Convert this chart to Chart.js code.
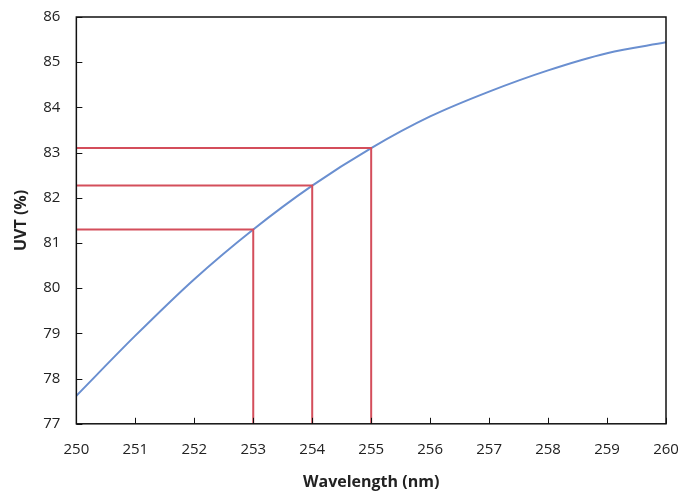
<!DOCTYPE html>
<html>
<head>
<meta charset="utf-8">
<script src="https://cdn.jsdelivr.net/npm/chart.js@4"></script>
<style>
  body { margin: 0; background: #fff; }
  #wrap { width: 683px; height: 494px; }
</style>
</head>
<body>
<div id="wrap"><canvas id="grafico"></canvas></div>
<script>
// wavelength (nm) and UVT (%)
var wavelengths = [250, 251, 252, 253, 254, 255, 256, 257, 258, 259, 260]
var uvt = [77.62, 78.95, 80.2, 81.3, 82.27, 83.1, 83.8, 84.35, 84.82, 85.2, 85.44]
// marked wavelengths with their read-off UVT
var marcados = [253, 254, 255]
var marcadosUvt = [81.3, 82.27, 83.1]
var xTicks = [250, 251, 252, 253, 254, 255, 256, 257, 258, 259, 260]
var yTicks = [77, 78, 79, 80, 81, 82, 83, 84, 85, 86]

var fonte = "'Open Sans', 'Liberation Sans', sans-serif"

var datasets = []
for (i = 0; i < marcados.length; i++) {
    datasets.push({
        data: [
            { x: 250, y: marcadosUvt[i] },
            { x: marcados[i], y: marcadosUvt[i] },
            { x: marcados[i], y: 77 }
        ],
        borderColor: '#d44e5b',
        borderWidth: 2,
        pointRadius: 0,
        tension: 0
    })
}
datasets.push({
    data: wavelengths.map((w, i) => ({ x: w, y: uvt[i] })),
    borderColor: '#6a8fd0',
    borderWidth: 2,
    pointRadius: 0,
    cubicInterpolationMode: 'monotone'
})

// frame and inward tick marks
const moldura = {
    id: 'moldura',
    afterDraw(chart) {
        const c = chart.ctx, a = chart.chartArea
        const x = chart.scales.x, y = chart.scales.y
        c.save()
        c.strokeStyle = '#111'
        c.lineWidth = 1.5
        c.strokeRect(a.left, a.top, a.right - a.left, a.bottom - a.top)
        c.lineWidth = 1
        c.beginPath()
        xTicks.forEach(v => {
            const px = Math.round(x.getPixelForValue(v)) + 0.5
            c.moveTo(px, a.bottom)
            c.lineTo(px, a.bottom - 6)
        })
        yTicks.forEach(v => {
            const py = Math.round(y.getPixelForValue(v)) + 0.5
            c.moveTo(a.left, py)
            c.lineTo(a.left + 6, py)
        })
        c.stroke()
        c.restore()
    }
}

var ctx = document.getElementById('grafico')
myChart = new Chart(ctx, {
    type: 'line',
    data: { datasets: datasets },
    options: {
        responsive: true,
        maintainAspectRatio: false,
        animation: false,
        layout: { padding: { left: 8, right: 17, top: 9, bottom: 0 } },
        plugins: {
            legend: { display: false },
            tooltip: { enabled: false }
        },
        scales: {
            x: {
                type: 'linear',
                min: 250,
                max: 260,
                afterBuildTicks: s => { s.ticks = xTicks.map(v => ({ value: v })) },
                afterFit: s => { s.paddingRight = 0 },
                grid: { display: false },
                border: { display: false },
                ticks: { color: '#222', font: { family: fonte, size: 15 }, padding: 9, maxRotation: 0 },
                title: { display: true, text: 'Wavelength (nm)', color: '#222', font: { family: fonte, size: 16, weight: 'bold' }, padding: { top: 5, bottom: 2 } }
            },
            y: {
                min: 77,
                max: 86,
                afterBuildTicks: s => { s.ticks = yTicks.map(v => ({ value: v })) },
                grid: { display: false },
                border: { display: false },
                ticks: { color: '#222', font: { family: fonte, size: 15 }, padding: 8 },
                title: { display: true, text: 'UVT (%)', color: '#222', font: { family: fonte, size: 16, weight: 'bold' }, padding: { bottom: 4 } }
            }
        }
    },
    plugins: [moldura]
})
</script>
</body>
</html>
